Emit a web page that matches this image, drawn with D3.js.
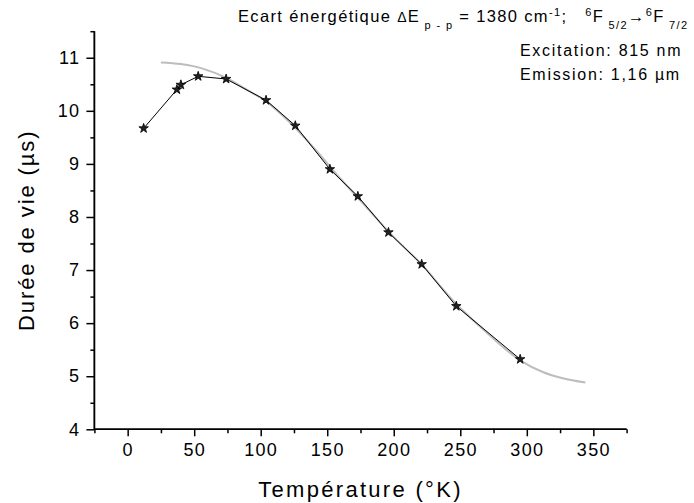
<!DOCTYPE html>
<html>
<head>
<meta charset="utf-8">
<script src="https://cdn.jsdelivr.net/npm/d3@7"></script>
<style>
  html, body { margin: 0; padding: 0; background: #fff; }
  svg { display: block; font-family: "Liberation Sans", Arial, Helvetica, sans-serif; }
</style>
</head>
<body>
<svg id="chart" width="694" height="503"></svg>
<script>
// Measured lifetime vs temperature (stars joined by straight segments)
const temperature = [12, 37, 40, 53, 74, 104, 126, 152, 173, 196, 221, 247, 295];
const lifetime    = [9.67, 10.40, 10.49, 10.65, 10.60, 10.20, 9.72, 8.90, 8.39, 7.71, 7.11, 6.32, 5.32];

// Model curve (grey)
const fitTemperature = [25, 40, 57, 74, 90, 105, 122, 140, 160, 180, 200, 220, 247, 270, 295, 312, 327, 344];
const fitLifetime    = [10.91, 10.88, 10.79, 10.62, 10.39, 10.16, 9.78, 9.30, 8.72, 8.17, 7.62, 7.13, 6.36, 5.82, 5.30, 5.08, 4.96, 4.88];

const xMajorTicks = [0, 50, 100, 150, 200, 250, 300, 350];
const xMinorTicks = [-25, 25, 75, 125, 175, 225, 275, 325, 375];
const yMajorTicks = [4, 5, 6, 7, 8, 9, 10, 11];
const yMinorTicks = [4.5, 5.5, 6.5, 7.5, 8.5, 9.5, 10.5, 11.5];

const svg = d3.select("#chart");

const x = d3.scaleLinear().domain([-25, 375]).range([94.4, 626.6]);
const y = d3.scaleLinear().domain([4, 11.5]).range([429.3, 31.2]);

const tickFont = 18;

// X axis
const gx = svg.append("g").attr("transform", `translate(0,${y(4)})`);
gx.call(d3.axisBottom(x).tickValues(xMajorTicks).tickSize(7).tickPadding(7).tickFormat(d3.format("d")));
gx.append("g").call(d3.axisBottom(x).tickValues(xMinorTicks).tickSize(4).tickFormat(""));
gx.selectAll(".tick line").attr("stroke", "#000").attr("stroke-width", 1.5);
gx.selectAll("text").attr("font-size", tickFont).attr("fill", "#000")
  .attr("font-family", "Liberation Sans, Arial, sans-serif").style("letter-spacing", "1.3px");

// Y axis
const gy = svg.append("g").attr("transform", `translate(${x(-25)},0)`);
gy.call(d3.axisLeft(y).tickValues(yMajorTicks).tickSize(8).tickPadding(6).tickFormat(d3.format("d")));
gy.append("g").call(d3.axisLeft(y).tickValues(yMinorTicks).tickSize(4).tickFormat(""));
gy.selectAll(".tick line").attr("stroke", "#000").attr("stroke-width", 1.5);
gy.selectAll("text").attr("font-size", tickFont).attr("fill", "#000")
  .attr("font-family", "Liberation Sans, Arial, sans-serif").style("letter-spacing", "1.3px");

// Only the main axis lines, without end caps
gx.selectAll(".domain").attr("stroke", "#000").attr("stroke-width", 1.5)
  .attr("d", `M${x(-25)},0H${x(375)}`);
gy.selectAll(".domain").attr("stroke", "#000").attr("stroke-width", 1.5)
  .attr("d", `M0,${y(4)}V${y(11.5)}`);

// Axis titles
svg.append("text")
  .attr("x", (x(-25) + x(375)) / 2).attr("y", 497)
  .attr("text-anchor", "middle").attr("font-size", 22).style("letter-spacing", "2.3px")
  .text("Température (°K)");

svg.append("text")
  .attr("transform", `translate(34,${(y(4) + y(11.5)) / 2}) rotate(-90)`)
  .attr("text-anchor", "middle").attr("font-size", 22).style("letter-spacing", "1.9px")
  .text("Durée de vie (µs)");

// Model curve
const fitData = fitTemperature.map((t, i) => [t, fitLifetime[i]]);
svg.append("path")
  .datum(fitData)
  .attr("fill", "none").attr("stroke", "#bdbdbd").attr("stroke-width", 2)
  .attr("d", d3.line().x(d => x(d[0])).y(d => y(d[1])).curve(d3.curveMonotoneX));

// Measurements
const data = temperature.map((t, i) => [t, lifetime[i]]);
svg.append("path")
  .datum(data)
  .attr("fill", "none").attr("stroke", "#000").attr("stroke-width", 1)
  .attr("d", d3.line().x(d => x(d[0])).y(d => y(d[1])));

svg.append("g").selectAll("path.star")
  .data(data).join("path")
  .attr("class", "star")
  .attr("transform", d => `translate(${x(d[0])},${y(d[1])})`)
  .attr("d", d3.symbol().type(d3.symbolStar).size(28))
  .attr("fill", "#222").attr("stroke", "#000").attr("stroke-width", 0.8);

// Header annotation
const title = svg.append("text").attr("x", 238).attr("y", 22)
  .attr("font-size", 16.5).style("letter-spacing", "1.35px").style("white-space", "pre");
title.append("tspan").text("Ecart énergétique ");
title.append("tspan").attr("font-size", 14).text("Δ");
title.append("tspan").text("E");
title.append("tspan").attr("font-size", 11).attr("dy", 7).text(" p - p");
title.append("tspan").attr("dy", -7).text(" = 1380 cm");
title.append("tspan").attr("font-size", 11).attr("dy", -6).text("-1");
title.append("tspan").attr("dy", 6).text(";   ");
title.append("tspan").attr("font-size", 11).attr("dy", -6).text("6");
title.append("tspan").attr("dy", 6).text("F");
title.append("tspan").attr("font-size", 11).attr("dy", 7).text(" 5/2");
title.append("tspan").attr("dy", -7).text("→");
title.append("tspan").attr("font-size", 11).attr("dy", -6).text("6");
title.append("tspan").attr("dy", 6).text("F");
title.append("tspan").attr("font-size", 11).attr("dy", 7).text(" 7/2");

// Excitation / emission note
svg.append("text").attr("x", 520).attr("y", 56).attr("font-size", 16)
  .style("letter-spacing", "1.7px").text("Excitation: 815 nm");
svg.append("text").attr("x", 520).attr("y", 80).attr("font-size", 16)
  .style("letter-spacing", "1.7px").text("Emission: 1,16 µm");
</script>
</body>
</html>
